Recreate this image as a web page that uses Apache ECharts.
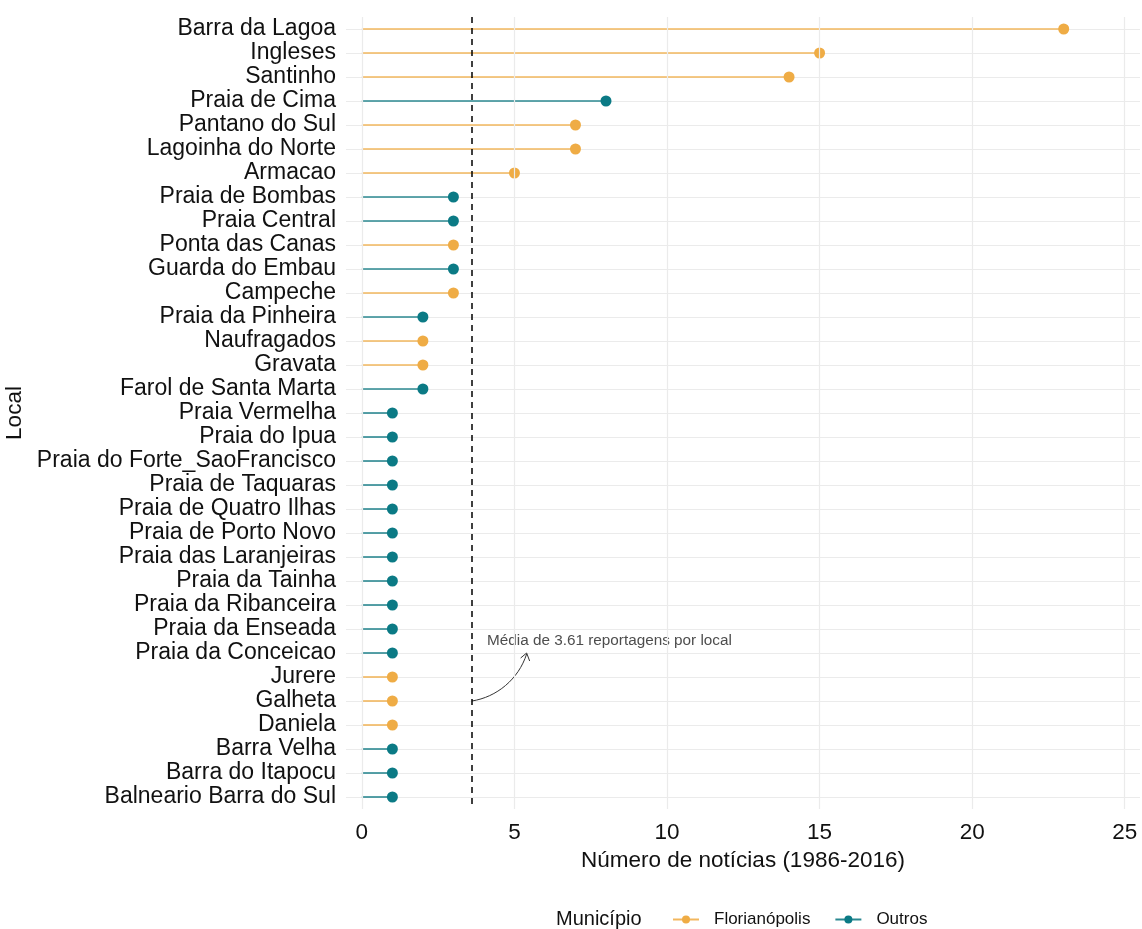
<!DOCTYPE html>
<html>
<head>
<meta charset="utf-8">
<style>html,body{margin:0;padding:0;background:#fff}#main{width:1142px;height:929px}</style>
<script src="https://cdn.jsdelivr.net/npm/echarts@6/dist/echarts.min.js"></script>
</head>
<body>
<div id="main"></div>
<script>
var locais = ['Barra da Lagoa', 'Ingleses', 'Santinho', 'Praia de Cima', 'Pantano do Sul',
  'Lagoinha do Norte', 'Armacao', 'Praia de Bombas', 'Praia Central', 'Ponta das Canas',
  'Guarda do Embau', 'Campeche', 'Praia da Pinheira', 'Naufragados', 'Gravata',
  'Farol de Santa Marta', 'Praia Vermelha', 'Praia do Ipua', 'Praia do Forte_SaoFrancisco',
  'Praia de Taquaras', 'Praia de Quatro Ilhas', 'Praia de Porto Novo', 'Praia das Laranjeiras',
  'Praia da Tainha', 'Praia da Ribanceira', 'Praia da Enseada', 'Praia da Conceicao',
  'Jurere', 'Galheta', 'Daniela', 'Barra Velha', 'Barra do Itapocu', 'Balneario Barra do Sul'];
var noticias = [23, 15, 14, 8, 7, 7, 5, 3, 3, 3, 3, 3, 2, 2, 2, 2,
  1, 1, 1, 1, 1, 1, 1, 1, 1, 1, 1, 1, 1, 1, 1, 1, 1];
var municipio = ['Florianópolis', 'Florianópolis', 'Florianópolis', 'Outros', 'Florianópolis',
  'Florianópolis', 'Florianópolis', 'Outros', 'Outros', 'Florianópolis',
  'Outros', 'Florianópolis', 'Outros', 'Florianópolis', 'Florianópolis',
  'Outros', 'Outros', 'Outros', 'Outros',
  'Outros', 'Outros', 'Outros', 'Outros',
  'Outros', 'Outros', 'Outros', 'Outros',
  'Florianópolis', 'Florianópolis', 'Florianópolis', 'Outros', 'Outros', 'Outros'];
var grupos = ['Florianópolis', 'Outros'];
var xTicks = [0, 5, 10, 15, 20, 25];

var corPonto = {'Florianópolis': '#EFAC45', 'Outros': '#0B7A85'};
var corLinha = {'Florianópolis': '#F2B75E', 'Outros': '#2B8891'};
var fonte = 'Liberation Sans, Arial, sans-serif';
var corTexto = '#111';

// media de reportagens por local
var soma = 0;
for (var i = 0; i < noticias.length; i++) soma += noticias[i];
var media = soma / noticias.length;

var myChart = echarts.init(document.getElementById('main'));

var hastes = [], pontos = [];
for (var i = 0; i < locais.length; i++) {
  hastes.push({value: [noticias[i], locais[i]], itemStyle: {color: corLinha[municipio[i]]}});
  pontos.push({value: [noticias[i], locais[i]], itemStyle: {color: corPonto[municipio[i]], opacity: 1}});
}

var series = [
  {
    type: 'bar',
    data: hastes,
    barWidth: 1.6,
    silent: true,
    z: 2,
    markLine: {
      silent: true,
      symbol: ['none', 'none'],
      label: {show: false},
      lineStyle: {color: '#ebebeb', width: 1.2, type: 'solid'},
      data: xTicks.map(function (v) { return {xAxis: v}; })
    }
  },
  {
    type: 'scatter',
    data: pontos,
    symbolSize: 11,
    silent: true,
    z: 4,
    markLine: {
      silent: true,
      symbol: ['none', 'none'],
      label: {show: false},
      lineStyle: {color: '#000', width: 1.5, type: [6, 5]},
      data: [{xAxis: media}]
    }
  }
];
// series vazias so para a legenda
grupos.forEach(function (g) {
  series.push({
    name: g, type: 'line', data: [],
    symbol: 'circle', symbolSize: 8,
    itemStyle: {color: corPonto[g]},
    lineStyle: {color: corLinha[g], width: 1.5}
  });
});

myChart.setOption({
  animation: false,
  title: {
    text: 'Município', left: 556, top: 909, padding: 0,
    textStyle: {fontSize: 20, fontWeight: 'normal', color: corTexto, fontFamily: fonte}
  },
  legend: {
    data: grupos, left: 672, top: 911, padding: 0,
    itemWidth: 26, itemHeight: 10, itemGap: 24,
    textStyle: {fontSize: 17, color: corTexto, fontFamily: fonte, padding: [0, 0, 0, 10]}
  },
  grid: {left: 346, right: 2, top: 17, bottom: 120, outerBoundsMode: 'none', containLabel: false},
  xAxis: {
    type: 'value', min: -0.52, max: 25.5,
    name: 'Número de notícias (1986-2016)',
    nameLocation: 'middle', nameGap: 38,
    nameTextStyle: {fontSize: 22.5, color: corTexto, fontFamily: fonte},
    axisLine: {show: false}, axisTick: {show: false},
    splitLine: {show: false},
    axisLabel: {customValues: xTicks, fontSize: 22.5, color: corTexto, margin: 12, fontFamily: fonte}
  },
  yAxis: {
    type: 'category', data: locais, inverse: true,
    name: 'Local', nameLocation: 'middle', nameGap: 314, nameRotate: 90,
    nameTextStyle: {fontSize: 22.5, color: corTexto, fontFamily: fonte},
    axisLine: {show: false}, axisTick: {show: false},
    axisLabel: {interval: 0, fontSize: 23, color: corTexto, margin: 10, fontFamily: fonte},
    splitLine: {show: true, alignWithLabel: true, lineStyle: {color: '#ebebeb', width: 1.2}}
  },
  series: series
});

// anotacao com seta curva
function px(x, i) { return myChart.convertToPixel({gridIndex: 0}, [x, i]); }
var ini = px(media, locais.indexOf('Galheta'));
var fim = px(5.4, locais.indexOf('Praia da Conceicao'));
var t1 = px(4.1, locais.indexOf('Praia da Enseada'));
var t2 = px(4.1, locais.indexOf('Praia da Conceicao'));
var dx = fim[0] - ini[0], dy = fim[1] - ini[1];

myChart.setOption({
  graphic: [
    {
      type: 'bezierCurve', silent: true,
      shape: {
        x1: ini[0], y1: ini[1], x2: fim[0], y2: fim[1] + 1,
        cpx1: ini[0] + dx * 0.45, cpy1: ini[1] + dy * 0.08,
        cpx2: ini[0] + dx * 0.85, cpy2: ini[1] + dy * 0.45
      },
      style: {stroke: '#333', lineWidth: 1, fill: null}
    },
    {
      type: 'polyline', silent: true,
      shape: {points: [[fim[0] - 6, fim[1] + 5], [fim[0], fim[1]], [fim[0] + 3, fim[1] + 8]]},
      style: {stroke: '#333', lineWidth: 1, fill: null}
    },
    {
      type: 'text', silent: true,
      x: t1[0], y: (t1[1] + t2[1]) / 2,
      style: {
        text: 'Média de ' + media.toFixed(2) + ' reportagens por local',
        font: '15.3px ' + fonte, fill: '#4d4d4d', verticalAlign: 'middle'
      }
    }
  ]
});
</script>
</body>
</html>
